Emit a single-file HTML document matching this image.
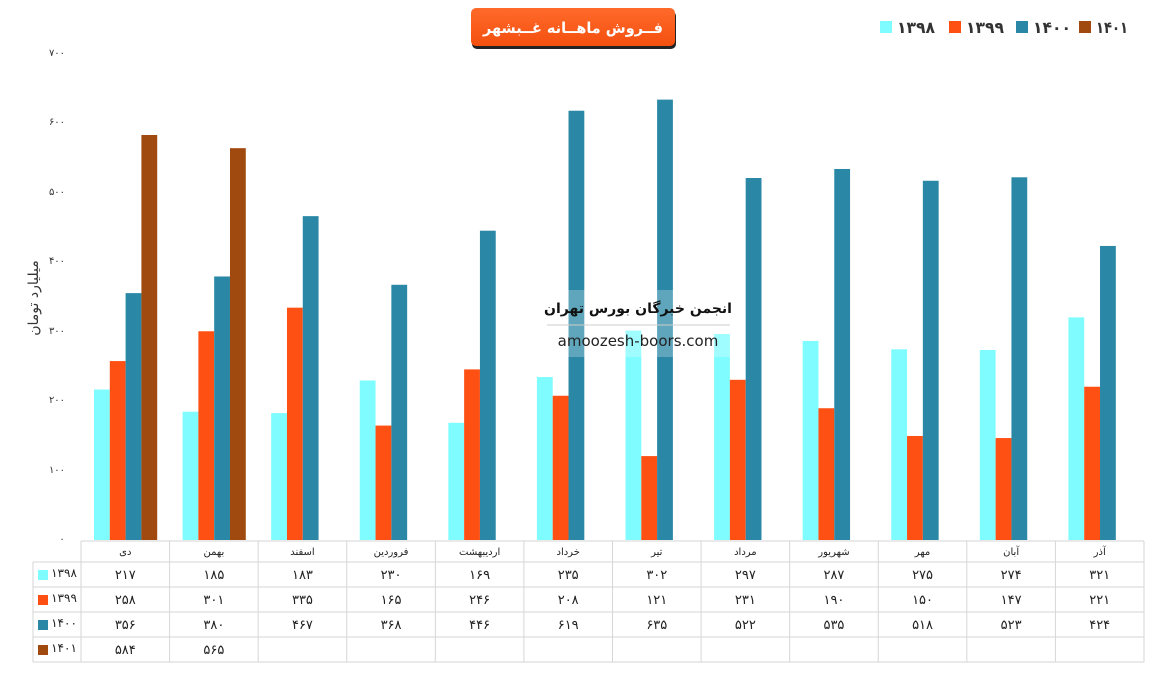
<!DOCTYPE html>
<html><head><meta charset="utf-8"><style>
body{margin:0;background:#fff;width:1155px;height:679px;overflow:hidden}
text{font-family:"DejaVu Sans","Liberation Sans",sans-serif}
</style></head><body>
<svg width="1155" height="679" viewBox="0 0 1155 679" xmlns="http://www.w3.org/2000/svg">
<defs><linearGradient id="tg" x1="0" y1="0" x2="0" y2="1"><stop offset="0" stop-color="#ff6a2a"/><stop offset="1" stop-color="#f4500f"/></linearGradient></defs>
<rect x="472" y="11" width="204" height="38" rx="5" fill="#222"/>
<rect x="471" y="8" width="204" height="38" rx="5" fill="url(#tg)"/>
<text x="573" y="33" font-size="15" font-weight="bold" fill="#fff" text-anchor="middle" textLength="180" lengthAdjust="spacingAndGlyphs">فــروش ماهــانه غــبشهر</text>
<g font-size="16" font-weight="bold" fill="#333">
<rect x="880" y="21" width="12" height="12" fill="#7ffcff"/><text x="897" y="33" textLength="38" lengthAdjust="spacingAndGlyphs">۱۳۹۸</text>
<rect x="949" y="21" width="12" height="12" fill="#ff5014"/><text x="966" y="33" textLength="38" lengthAdjust="spacingAndGlyphs">۱۳۹۹</text>
<rect x="1016" y="21" width="12" height="12" fill="#2a88a6"/><text x="1033" y="33" textLength="38" lengthAdjust="spacingAndGlyphs">۱۴۰۰</text>
<rect x="1079" y="21" width="12" height="12" fill="#a04a10"/><text x="1096" y="33" textLength="32" lengthAdjust="spacingAndGlyphs">۱۴۰۱</text>
</g>
<g font-size="10" fill="#333" text-anchor="middle">
<text x="57" y="56">۷۰۰</text><text x="57" y="125">۶۰۰</text><text x="57" y="195">۵۰۰</text><text x="57" y="264">۴۰۰</text><text x="57" y="334">۳۰۰</text><text x="57" y="403">۲۰۰</text><text x="57" y="473">۱۰۰</text><text x="62" y="542">۰</text>
</g>
<text transform="translate(38,298) rotate(-90)" font-size="14" fill="#333" text-anchor="middle">میلیارد تومان</text>
<g id="bars"></g>
<rect x="547" y="290" width="183" height="67" fill="#fff" opacity="0.25"/>
<line x1="547" y1="325" x2="730" y2="325" stroke="#ccc"/>
<text x="638" y="313" font-size="14" font-weight="bold" fill="#111" text-anchor="middle">انجمن خبرگان بورس تهران</text>
<text x="638" y="346" font-size="15" fill="#222" text-anchor="middle" font-family="Liberation Sans">amoozesh-boors.com</text>
<g id="tbl" stroke="#d6d6d6" fill="none"></g>
<g id="tt" font-size="13" fill="#222" text-anchor="middle"></g>
</svg>
<script>
const ns="http://www.w3.org/2000/svg";
const cats=["دی","بهمن","اسفند","فروردین","اردیبهشت","خرداد","تیر","مرداد","شهریور","مهر","آبان","آذر"];
const d=[[217,185,183,230,169,235,302,297,287,275,274,321],[258,301,335,165,246,208,121,231,190,150,147,221],[356,380,467,368,446,619,635,522,535,518,523,424],[584,565]];
const col=["#7ffcff","#ff5014","#2a88a6","#a04a10"];
const fa=n=>String(n).replace(/\d/g,c=>"۰۱۲۳۴۵۶۷۸۹"[c]);
const L=81,W=(1144-81)/12,y0=540,s=0.6935;
const B=document.getElementById("bars"),T=document.getElementById("tbl"),X=document.getElementById("tt");
function el(p,t,a,txt){const e=document.createElementNS(ns,t);for(const k in a)e.setAttribute(k,a[k]);if(txt!=null)e.textContent=txt;p.appendChild(e);return e;}
for(let c=0;c<12;c++){const x=L+c*W+13;for(let i=0;i<4;i++){const v=d[i][c];if(v==null)continue;el(B,"rect",{x:x+i*15.8,y:y0-v*s,width:15.8,height:v*s,fill:col[i]});}}
const rows=[541,562,587,612,637,662];
for(let c=0;c<=12;c++){const x=L+c*W;el(T,"line",{x1:x,y1:541,x2:x,y2:662});}
el(T,"line",{x1:33,y1:562,x2:33,y2:662});
el(T,"line",{x1:L,y1:541,x2:1144,y2:541});
for(let r=1;r<6;r++)el(T,"line",{x1:33,y1:rows[r],x2:1144,y2:rows[r]});
for(let c=0;c<12;c++){const cx=L+c*W+W/2;el(X,"text",{x:cx,y:555,"font-size":10},cats[c]);
for(let i=0;i<4;i++){const v=d[i][c];if(v==null)continue;el(X,"text",{x:cx,y:rows[i+1]+17},fa(v));}}
for(let i=0;i<4;i++){el(X,"rect",{x:38,y:rows[i+1]+8,width:10,height:10,fill:col[i]});el(X,"text",{x:64,y:rows[i+1]+15,"font-size":12},fa(["1398","1399","1400","1401"][i]));}
</script>
</body></html>
